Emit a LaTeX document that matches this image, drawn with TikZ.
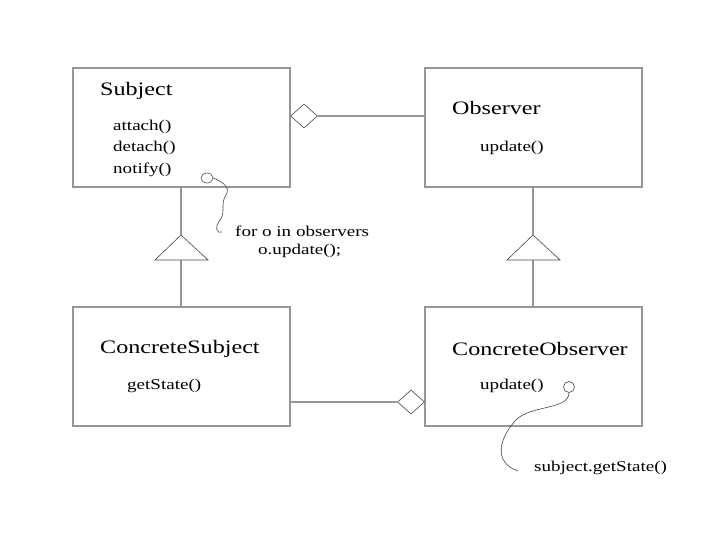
\documentclass[tikz,border=0pt]{standalone}
\usepackage{fontspec}
\setmainfont{Liberation Serif}[FakeStretch=1.27]
\usetikzlibrary{shapes.geometric}
\definecolor{boxgray}{RGB}{150,150,150}
\definecolor{edgegray}{RGB}{70,70,70}
\tikzset{
  classbox/.style={draw=boxgray, line width=1.6pt, minimum width=217pt, minimum height=119pt, inner sep=0pt},
  title/.style={anchor=west, inner sep=0pt, font=\fontsize{19}{22}\selectfont},
  method/.style={anchor=west, inner sep=0pt, font=\fontsize{15}{18}\selectfont},
  conn/.style={draw=boxgray, line width=1.4pt},
  agg/.style={diamond, draw=edgegray, line width=0.6pt, fill=white, minimum width=27pt, minimum height=24pt, inner sep=0pt},
  tri/.style={draw=edgegray, line width=0.6pt, fill=white},
  note/.style={draw=edgegray, line width=0.6pt},
}
\begin{document}
\begin{tikzpicture}[x=1pt,y=-1pt]
\useasboundingbox (0,0) rectangle (720,540);
% boxes
\node[classbox] (subj) at (181.5,127.5) {};
\node[classbox] (obs) at (533.5,127.5) {};
\node[classbox] (csubj) at (181.5,366.5) {};
\node[classbox] (cobs) at (533.5,366.5) {};
% texts
\node[title] (tsubj) at (100,91) {Subject};
\node[method] (m1) at (113,127) {attach()};
\node[method] (m2) at (113,148) {detach()};
\node[method] (m3) at (113,170) {notify()};
\node[title] (tobs) at (452,108) {Observer};
\node[method] (m4) at (480,148) {update()};
\node[title] (tcsubj) at (100,349) {ConcreteSubject};
\node[method] (m5) at (127,386) {getState()};
\node[title] (tcobs) at (452,349) {ConcreteObserver};
\node[method] (m6) at (480,386) {update()};
\node[method] (n1) at (235,231) {for o in observers};
\node[method] (n2) at (258,251) {o.update();};
\node[method] (n3) at (534,468) {subject.getState()};
% aggregation top
\node[agg] (d1) at (304,116) {};
\draw[conn] (d1.east) -- (d1.east -| obs.west);
% aggregation bottom
\node[agg] (d2) at (411,402) {};
\coordinate (cse) at (csubj.east |- d2);
\draw[conn] (cse) -- (d2.west);
% generalization left
\coordinate (ta1) at (181,235);
\coordinate (tl1) at (155,260);
\coordinate (tr1) at (208,260);
\coordinate (tb1) at (181,260);
\draw[conn] (subj.south -| ta1) -- (ta1);
\draw[conn] (tb1) -- (tb1 |- csubj.north);
\draw[tri] (ta1) -- (tl1) -- (tr1) -- cycle;
% generalization right
\coordinate (ta2) at (533,235);
\coordinate (tl2) at (507,260);
\coordinate (tr2) at (560,260);
\coordinate (tb2) at (533,260);
\draw[conn] (obs.south -| ta2) -- (ta2);
\draw[conn] (tb2) -- (tb2 |- cobs.north);
\draw[tri] (ta2) -- (tl2) -- (tr2) -- cycle;
% note circles and curves
\node[ellipse, draw=edgegray, line width=0.6pt, minimum width=12pt, minimum height=10pt, inner sep=0pt] (c1) at (207,178) {};
\coordinate (e1) at (222,232);
\draw[note] (c1.east) .. controls (218,180) and (232,186) .. (226,195)
  .. controls (220,204) and (226,212) .. (220,220)
  .. controls (214,228) and (217,234) .. (e1);
\node[circle, draw=edgegray, line width=0.6pt, minimum size=11pt, inner sep=0pt] (c2) at (569,387) {};
\coordinate (e2) at (518,471);
\draw[note] (c2.south) .. controls (569,410) and (530,405) .. (516,420)
  .. controls (500,437) and (492,462) .. (e2);
\end{tikzpicture}
\end{document}
